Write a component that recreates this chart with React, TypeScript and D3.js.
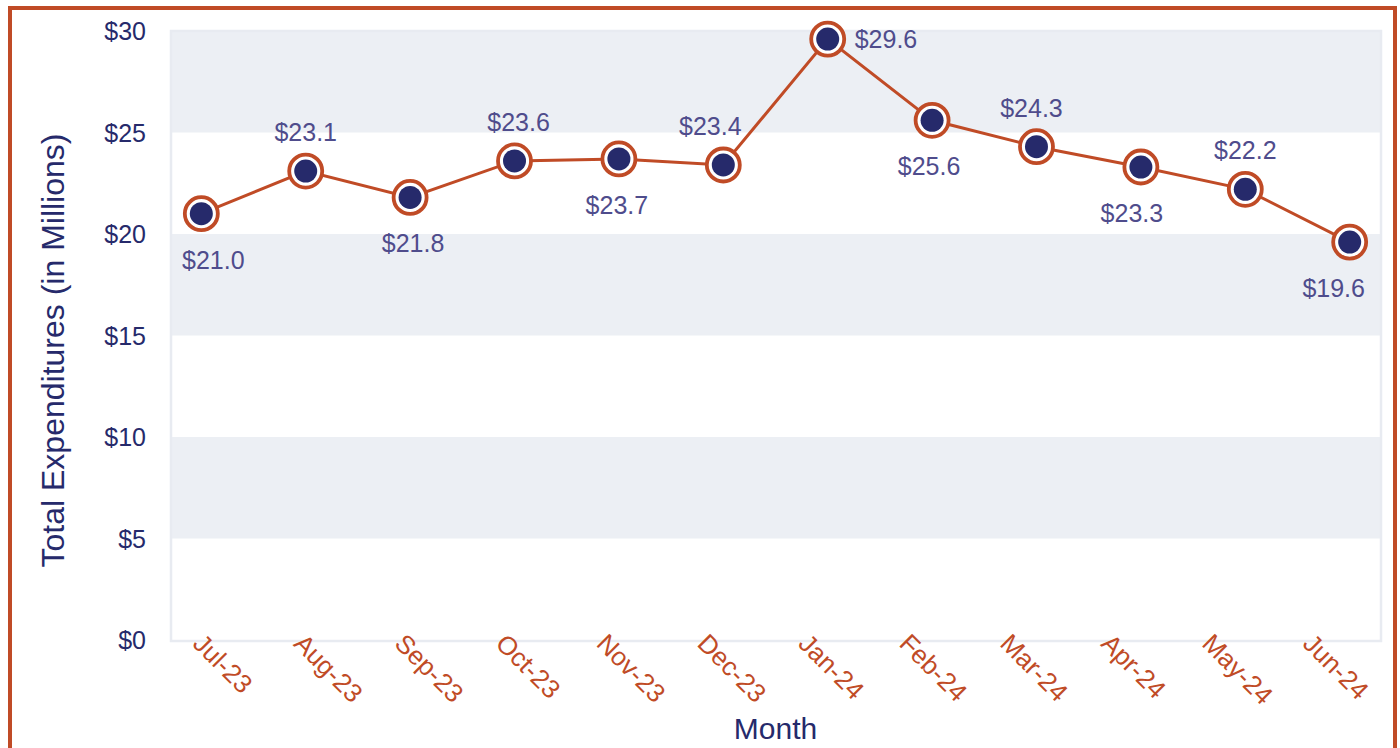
import React from "react";
import * as d3 from "d3";

const months = ["Jul-23","Aug-23","Sep-23","Oct-23","Nov-23","Dec-23","Jan-24","Feb-24","Mar-24","Apr-24","May-24","Jun-24"];
const values = [21.0, 23.1, 21.8, 23.6, 23.7, 23.4, 29.6, 25.6, 24.3, 23.3, 22.2, 19.6];
const labelPos = ["below","above","below","above","below","above","right","below","above","below","above","below"];
const yTicks = [0, 5, 10, 15, 20, 25, 30];

const W = 1400, H = 748;
const left = 170, right = 1381, top = 31, bottom = 640;
const NAVY = "#262a6b";
const ORANGE = "#c04b26";
const LABEL = "#4f4c8c";
const BAND = "#eceff4";
const FONT = "'Liberation Sans', Arial, Helvetica, sans-serif";
// horizontal nudges of the value labels (label placement)
const labelDx = [12, 0, 3, 4, -2, -13, 0, -3, -5, -9, 0, -16];

export default function App() {
  const x = d3.scalePoint<string>().domain(months).range([left, right]).padding(0.3);
  const xb = d3.scaleBand<string>().domain(months).range([left, right]);
  const y = d3.scaleLinear().domain([0, 30]).range([bottom, top]);
  const line = d3.line<number>().x((_, i) => x(months[i])!).y(d => y(d));
  const bands = d3.range(0, 30, 5);

  return (
    <svg width={W} height={H} style={{ position: "absolute", left: 0, top: 0, background: "#fff" }} fontFamily={FONT}>
      <rect x={10} y={8} width={1385} height={H + 20} fill="none" stroke={ORANGE} strokeWidth={4} />
      {bands.map(b => (
        <rect key={b} x={left} y={y(b + 5)} width={right - left} height={y(b) - y(b + 5)} fill={(b / 5) % 2 === 1 ? BAND : "#fff"} />
      ))}
      <rect x={left + 1} y={top} width={right - left - 1} height={bottom - top + 1} fill="none" stroke="#e8ebf1" strokeWidth={2.5} />
      {yTicks.map(t => (
        <text key={t} x={146} y={y(t)} dy="0.36em" textAnchor="end" fontSize={25} fill={NAVY}>${t}</text>
      ))}
      <text transform={`translate(64, ${(top + bottom) / 2 + 15}) rotate(-90)`} textAnchor="middle" fontSize={32} fill={NAVY}>
        Total Expenditures (in Millions)
      </text>
      {months.map(m => (
        <text key={m} transform={`translate(${xb(m)! + xb.bandwidth() / 2 - 29}, 645) rotate(45)`} fontSize={26} fill={ORANGE}>{m}</text>
      ))}
      <text x={(left + right) / 2} y={739} textAnchor="middle" fontSize={30} fill={NAVY}>Month</text>
      <path d={line(values)!} fill="none" stroke={ORANGE} strokeWidth={3} />
      {values.map((v, i) => (
        <g key={i} transform={`translate(${x(months[i])}, ${y(v)})`}>
          <circle r={16.5} fill="#fff" stroke={ORANGE} strokeWidth={3.8} />
          <circle r={11.5} fill={NAVY} />
        </g>
      ))}
      {values.map((v, i) => {
        const cx = x(months[i])!, cy = y(v);
        const pos = labelPos[i];
        const lx = pos === "right" ? cx + 27 : cx + labelDx[i];
        const ly = pos === "above" ? cy - 30 : pos === "below" ? cy + 55 : cy + 9;
        return (
          <text key={i} x={lx} y={ly} textAnchor={pos === "right" ? "start" : "middle"} fontSize={25} fill={LABEL}>
            ${v.toFixed(1)}
          </text>
        );
      })}
    </svg>
  );
}
